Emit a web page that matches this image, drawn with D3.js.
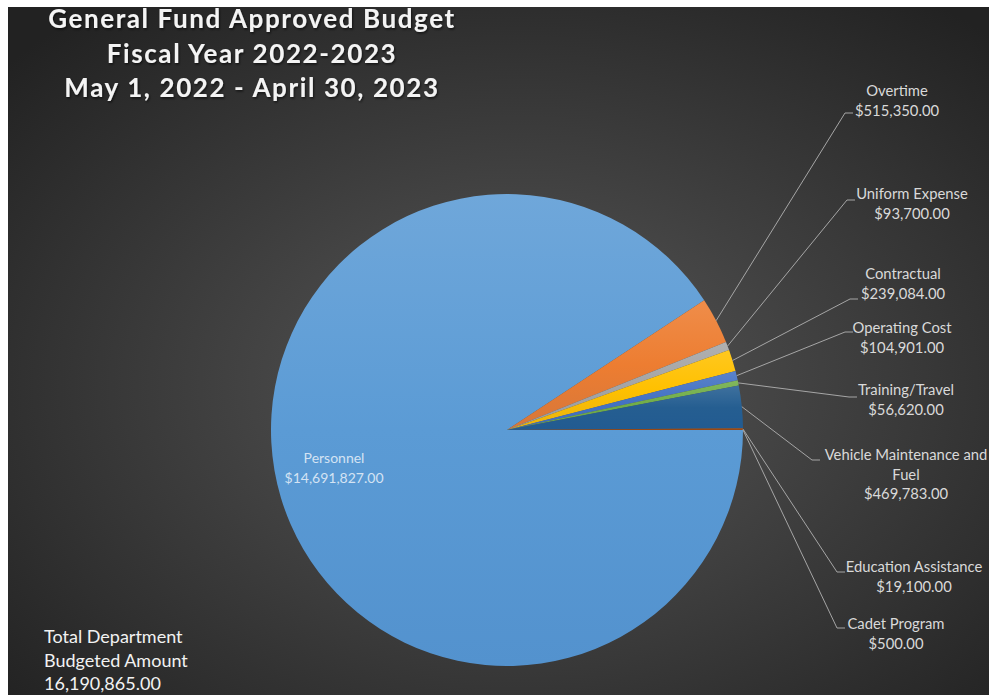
<!DOCTYPE html>
<html>
<head>
<meta charset="utf-8">
<script src="https://cdn.jsdelivr.net/npm/d3@7"></script>
<style>
  body { margin: 0; background: #fff; }
  svg text { font-family: Lato, "Open Sans", sans-serif; }
</style>
</head>
<body>
<script>
var w = 991, h = 695;

// data
var categories = ["Personnel", "Overtime", "Uniform Expense", "Contractual", "Operating Cost",
  "Training/Travel", "Vehicle Maintenance and Fuel", "Education Assistance", "Cadet Program"];
var amounts = [14691827, 515350, 93700, 239084, 104901, 56620, 469783, 19100, 500];
var sliceColors = ["#5B9BD5", "#ED7D31", "#A5A5A5", "#FFC000", "#4472C4", "#70AD47", "#255E91", "#9E480E", "#636363"];
var titleLines = ["General Fund Approved Budget", "Fiscal Year 2022-2023", "May 1, 2022 - April 30, 2023"];
var totalLines = ["Total Department", "Budgeted Amount", "16,190,865.00"];

// label placement (center x, first line y, leader end x, leader end y)
var labelLayout = [
  null,
  [897, 91, 853, 113],
  [912, 194, 855, 200],
  [903, 274, 858, 299],
  [902, 328, 853, 332],
  [906, 390, 857, 397],
  [906, 455, 820, 460],
  [914, 567, 845, 572],
  [896, 624, 845, 628]
];

var fmt = d3.format("$,.2f");

var svg = d3.select("body").append("svg")
  .attr("width", w)
  .attr("height", h);

var defs = svg.append("defs");

var bg = defs.append("radialGradient").attr("id", "bg")
  .attr("cx", "52%").attr("cy", "55%").attr("r", "70%");
bg.append("stop").attr("offset", "0%").attr("stop-color", "#585858");
bg.append("stop").attr("offset", "100%").attr("stop-color", "#222222");

var shadow = defs.append("filter").attr("id", "shadow")
  .attr("x", "-10%").attr("y", "-10%").attr("width", "120%").attr("height", "130%");
shadow.append("feDropShadow").attr("dx", 1).attr("dy", 1.5).attr("stdDeviation", 1.2)
  .attr("flood-color", "#000").attr("flood-opacity", 0.6);

sliceColors.forEach(function(c, i) {
  var g = defs.append("linearGradient").attr("id", "sl" + i)
    .attr("x1", 0).attr("y1", 0).attr("x2", 0).attr("y2", 1);
  g.append("stop").attr("offset", "0%").attr("stop-color", d3.interpolateRgb(c, "#fff")(0.12));
  g.append("stop").attr("offset", "50%").attr("stop-color", c);
  g.append("stop").attr("offset", "100%").attr("stop-color", d3.interpolateRgb(c, "#0a3d8f")(0.1));
});

svg.append("rect")
  .attr("x", 8).attr("y", 7)
  .attr("width", w - 10).attr("height", h - 7)
  .style("fill", "url(#bg)");

// title
svg.append("g").selectAll("text")
  .data(titleLines)
  .enter()
  .append("text")
  .attr("x", 252)
  .attr("y", function(d, i) { return 28 + i * 34.5; })
  .attr("text-anchor", "middle")
  .attr("filter", "url(#shadow)")
  .style("font-size", "26px")
  .style("font-weight", "bold")
  .style("letter-spacing", "1.6px")
  .style("fill", "#f4f4f4")
  .text(function(d) { return d; });

// pie
var cx = 507, cy = 430, r = 236;

var pie = d3.pie().sort(null)
  .startAngle(Math.PI / 2)
  .endAngle(Math.PI / 2 + 2 * Math.PI);

var arcs = pie(amounts);
var arc = d3.arc().innerRadius(0).outerRadius(r);

var gPie = svg.append("g").attr("transform", "translate(" + cx + "," + cy + ")");

gPie.selectAll("path")
  .data(arcs)
  .enter()
  .append("path")
  .attr("d", arc)
  .style("fill", function(d, i) { return "url(#sl" + i + ")"; });

// personnel label inside
gPie.append("g").selectAll("text")
  .data([categories[0], fmt(amounts[0])])
  .enter()
  .append("text")
  .attr("x", 334 - cx)
  .attr("y", function(d, i) { return 463 - cy + i * 19.5; })
  .attr("text-anchor", "middle")
  .style("font-size", "14px")
  .style("fill", "#d4e3f3")
  .text(function(d) { return d; });

// outside labels with leader lines
var gLab = svg.append("g");

arcs.forEach(function(d, i) {
  var lay = labelLayout[i];
  if (!lay) return;
  var mid = (d.startAngle + d.endAngle) / 2;
  var sx = cx + r * Math.sin(mid), sy = cy - r * Math.cos(mid);

  gLab.append("polyline")
    .attr("points", [[sx, sy], [lay[2] - 8, lay[3]], [lay[2], lay[3]]].join(" "))
    .style("fill", "none")
    .style("stroke", "#a6a6a6")
    .style("stroke-width", 1);

  // wrap the category name to a max width
  var lines = [];
  var words = categories[i].split(" ");
  var probe = gLab.append("text").style("font-size", "14.8px");
  var cur = "";
  words.forEach(function(wd) {
    var test = cur ? cur + " " + wd : wd;
    probe.text(test);
    if (probe.node().getComputedTextLength() > 170 && cur) {
      lines.push(cur);
      cur = wd;
    } else {
      cur = test;
    }
  });
  lines.push(cur);
  probe.remove();
  lines.push(fmt(amounts[i]));

  gLab.append("g").selectAll("text")
    .data(lines)
    .enter()
    .append("text")
    .attr("x", lay[0])
    .attr("y", function(t, k) { return lay[1] + 5 + k * 19.5; })
    .attr("text-anchor", "middle")
    .style("font-size", "14.8px")
    .style("fill", "#d9d9d9")
    .text(function(t) { return t; });
});

// total
svg.append("g").selectAll("text")
  .data(totalLines)
  .enter()
  .append("text")
  .attr("x", 44)
  .attr("y", function(d, i) { return 643 + i * 23.5; })
  .style("font-size", "18px")
  .style("fill", "#f2f2f2")
  .text(function(d) { return d; });
</script>
</body>
</html>
